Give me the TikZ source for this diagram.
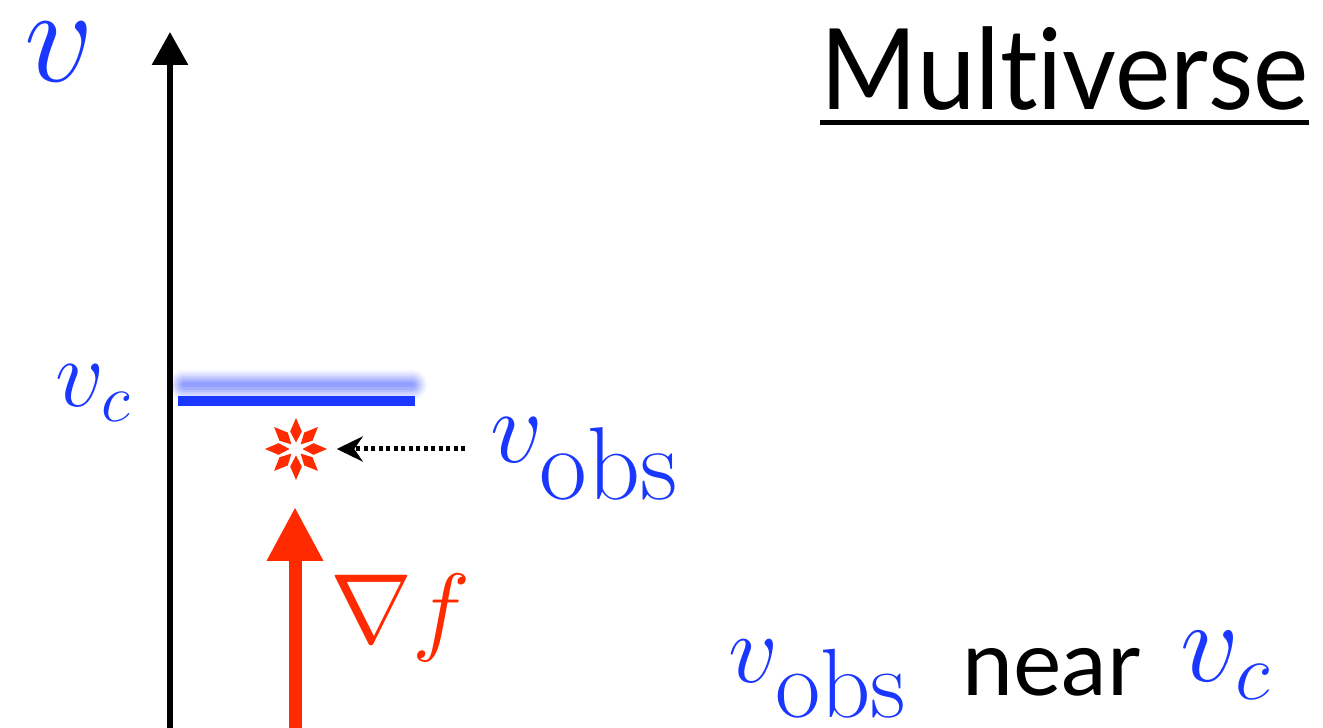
\RequirePackage{fix-cm}
\documentclass[tikz,border=0pt]{standalone}
\usepackage{fontspec}
\newfontfamily\gillsans[RawFeature=-liga]{Lato}
\usetikzlibrary{arrows.meta, positioning}

\definecolor{azulv}{RGB}{25,55,255}
\definecolor{rojof}{RGB}{255,42,0}

\tikzset{
  etiqueta/.style={anchor=base west, inner sep=0pt, text=azulv},
  texto/.style={anchor=base west, inner sep=0pt, font=\gillsans},
}

\begin{document}
\begin{tikzpicture}[scale=1.0, transform shape]

  \useasboundingbox (0, 0) rectangle (13.23, 7.28);

  % Banda difusa sobre v_c (varias capas transparentes)
  \foreach \w/\o in {0.30/0.06, 0.26/0.08, 0.22/0.10, 0.18/0.12, 0.14/0.15, 0.10/0.18, 0.05/0.22} {
    \draw[line width=\w cm, color=azulv!75, opacity=\o, line cap=round] (1.84, 3.43) -- (4.12, 3.43);
  }

  % Nivel critico v_c
  \draw[line width=0.10cm, color=azulv] (1.78, 3.27) -- (4.15, 3.27);

  % Eje vertical v
  \coordinate (ejeBase) at (1.70, 0);
  \coordinate (ejeTope) at (1.70, 6.96);
  \draw[line width=0.06cm, -{Triangle[length=0.33cm, width=0.35cm]}] (ejeBase) -- (ejeTope);

  % Etiquetas del eje
  \node[etiqueta, font=\fontsize{39}{44}\selectfont] (ejeV) at (0.24, 6.46) {$v$};
  \node[etiqueta, font=\fontsize{27.5}{32}\selectfont] (nivelC) at (0.55, 3.21) {$v_c$};

  % Valor observado (estrella de 8 petalos)
  \node[inner sep=0pt, minimum size=0.8cm] (estrella) at (2.96, 2.79) {};
  \foreach \a in {0, 45, ..., 315} {
    \fill[rojof, shift={(estrella.center)}, rotate=\a]
      (0.065, 0) -- (0.175, 0.058) -- (0.31, 0) -- (0.175, -0.058) -- cycle;
  }

  \node[etiqueta, font=\fontsize{29.5}{34}\selectfont] (vobs) at (4.90, 2.65) {$v_{\textstyle\mathrm{obs}}$};
  \coordinate (inicioPunteado) at (4.65, 2.79);
  \draw[line width=0.05cm, dash pattern=on 0.04cm off 0.035cm,
        -{Stealth[length=0.26cm, width=0.25cm]}] (inicioPunteado) -- (estrella);

  % Gradiente de f (flecha roja)
  \coordinate (gradBase) at (2.95, 0);
  \coordinate (gradTope) at (2.95, 2.21);
  \draw[line width=0.13cm, color=rojof, -{Triangle[length=0.54cm, width=0.53cm]}] (gradBase) -- (gradTope);
  \node[anchor=base west, inner sep=0pt, text=rojof, font=\fontsize{28}{32}\selectfont] (gradF) at (3.30, 0.85) {$\nabla f$};

  % Titulo subrayado
  \node[texto, xscale=0.93, font=\gillsans\fontsize{32}{38}\selectfont] (titulo) at (8.20, 6.18) {Multiverse};
  \draw[line width=0.05cm] ([yshift=-0.13cm]titulo.base west) -- ([yshift=-0.13cm]titulo.base east);

  % Conclusion
  \node[etiqueta, font=\fontsize{28}{32}\selectfont] (vobsAbajo) at (7.28, 0.45) {$v_{\textstyle\mathrm{obs}}$};
  \node[texto, font=\gillsans\fontsize{26}{30}\selectfont] (cerca) at (9.62, 0.33) {near};
  \node[etiqueta, font=\fontsize{33}{38}\selectfont] (vcAbajo) at (11.80, 0.46) {$v_c$};

\end{tikzpicture}
\end{document}
